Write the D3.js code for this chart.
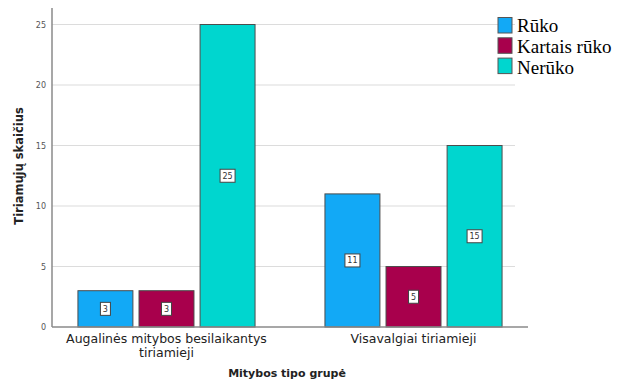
<!DOCTYPE html>
<html>
<head>
<meta charset="utf-8">
<script src="https://cdn.jsdelivr.net/npm/d3@7"></script>
<style>
  html, body { margin: 0; padding: 0; background: #fff; }
  svg { display: block; }
</style>
</head>
<body>
<svg id="chart" width="617" height="387"></svg>
<script>
// Respondent counts by diet group and smoking status
const groups = ["Augalinės mitybos besilaikantys tiriamieji", "Visavalgiai tiriamieji"];
const groupLines = [["Augalinės mitybos besilaikantys", "tiriamieji"], ["Visavalgiai tiriamieji"]];
const seriesNames = ["Rūko", "Kartais rūko", "Nerūko"];
const ruko = [3, 11];
const kartaisRuko = [3, 5];
const neruko = [25, 15];
const yTicks = [0, 5, 10, 15, 20, 25];
const colors = ["#12a9f6", "#a8004c", "#00d6cf"];

const seriesValues = [ruko, kartaisRuko, neruko];

const svg = d3.select("#chart");

const left = 52, right = 528, bottom = 327;
const y = d3.scaleLinear().domain([0, 25]).range([bottom, 24.5]);
const yTop = 8;

const x0 = d3.scaleBand().domain(groups).range([left, right])
  .paddingInner(0.283).paddingOuter(0.105);
const x1 = d3.scaleBand().domain(seriesNames).range([0, x0.bandwidth()])
  .paddingInner(0.1);

// gridlines
svg.append("g").selectAll("line").data(yTicks.filter(d => d > 0)).join("line")
  .attr("x1", left).attr("x2", 515)
  .attr("y1", d => y(d)).attr("y2", d => y(d))
  .attr("stroke", "#dcdcdc").attr("stroke-width", 1.2);

// y axis
const yAxis = d3.axisLeft(y).tickValues(yTicks).tickSize(0).tickPadding(6);
const gy = svg.append("g").attr("transform", `translate(${left},0)`).call(yAxis);
gy.select(".domain").remove();
gy.selectAll("text").attr("font-family", "'DejaVu Sans', sans-serif")
  .attr("font-size", 8).attr("fill", "#555");
svg.append("line").attr("x1", left).attr("x2", left).attr("y1", yTop).attr("y2", bottom)
  .attr("stroke", "#8a8a8a").attr("stroke-width", 1.5);

// bars
const barData = [];
groups.forEach((g, gi) => seriesNames.forEach((s, si) => {
  barData.push({ group: g, series: s, value: seriesValues[si][gi], color: colors[si] });
}));

const bars = svg.append("g").selectAll("g").data(barData).join("g")
  .attr("transform", d => `translate(${x0(d.group) + x1(d.series)},0)`);

bars.append("rect")
  .attr("x", 0).attr("y", d => y(d.value))
  .attr("width", x1.bandwidth()).attr("height", d => y(0) - y(d.value))
  .attr("fill", d => d.color).attr("stroke", "#4d4d4d").attr("stroke-width", 1);

// value labels in small boxes
bars.each(function(d) {
  const g = d3.select(this);
  const cx = x1.bandwidth() / 2;
  const cy = (y(d.value) + y(0)) / 2;
  const txt = String(d.value);
  const w = txt.length > 1 ? 15 : 10;
  g.append("rect").attr("x", cx - w / 2).attr("y", cy - 6.5)
    .attr("width", w).attr("height", 13)
    .attr("fill", "#fff").attr("stroke", "#444").attr("stroke-width", 1);
  g.append("text").attr("x", cx).attr("y", cy + 3)
    .attr("text-anchor", "middle")
    .attr("font-family", "'DejaVu Sans', sans-serif").attr("font-size", 8)
    .attr("fill", "#333").text(txt);
});

// x axis line
svg.append("line").attr("x1", left).attr("x2", right).attr("y1", bottom).attr("y2", bottom)
  .attr("stroke", "#8a8a8a").attr("stroke-width", 1.5);

// category labels
const xl = svg.append("g");
groups.forEach((g, gi) => {
  const t = xl.append("text")
    .attr("x", x0(g) + x0.bandwidth() / 2).attr("y", 343)
    .attr("text-anchor", "middle")
    .attr("font-family", "'DejaVu Sans', sans-serif").attr("font-size", 12.5)
    .attr("fill", "#222");
  groupLines[gi].forEach((line, li) => {
    t.append("tspan").attr("x", x0(g) + x0.bandwidth() / 2)
      .attr("dy", li === 0 ? 0 : 13.5).text(line);
  });
});

// axis titles
svg.append("text").attr("x", (left + right) / 2 - 3).attr("y", 377)
  .attr("text-anchor", "middle")
  .attr("font-family", "'DejaVu Sans', sans-serif").attr("font-size", 11)
  .attr("font-weight", "bold").attr("fill", "#222").text("Mitybos tipo grupė");

svg.append("text").attr("transform", "translate(23,166) rotate(-90)")
  .attr("text-anchor", "middle")
  .attr("font-family", "'DejaVu Sans', sans-serif").attr("font-size", 11.5)
  .attr("font-weight", "bold").attr("fill", "#222").text("Tiriamųjų skaičius");

// legend
const legend = svg.append("g").selectAll("g").data(seriesNames).join("g");
legend.append("rect")
  .attr("x", 498).attr("y", (d, i) => 17.5 + i * 20.3)
  .attr("width", 14).attr("height", 15.5)
  .attr("fill", (d, i) => colors[i]).attr("stroke", "#555").attr("stroke-width", 1);
legend.append("text")
  .attr("x", 517).attr("y", (d, i) => 31.5 + i * 21.3)
  .attr("font-family", "'Liberation Serif', 'Times New Roman', serif")
  .attr("font-size", 19).attr("fill", "#000").text(d => d);
</script>
</body>
</html>
